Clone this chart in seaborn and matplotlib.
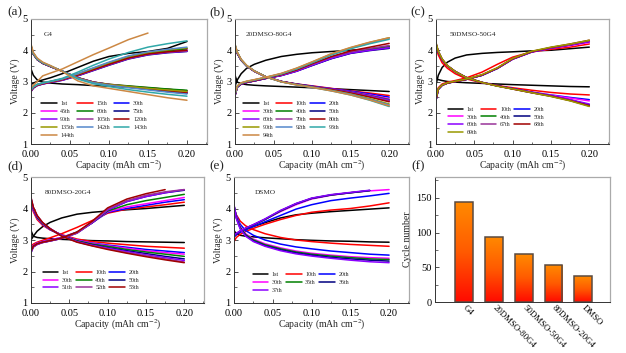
import numpy as np
import matplotlib
matplotlib.use("Agg")
import matplotlib.pyplot as plt
import seaborn as sns
from matplotlib.colors import LinearSegmentedColormap
from matplotlib.ticker import MultipleLocator

nan = np.nan

# capacity grid (mAh cm-2) shared by every curve
CAP = [0, 0.003, 0.008, 0.015, 0.025, 0.04, 0.06, 0.08, 0.1, 0.125, 0.15, 0.175, 0.2]

COLORS = ["#000000", "#ff0000", "#0000ff", "#ff00ff", "#008000", "#000080",
          "#8b00ff", "#993399", "#a00000", "#999900", "#5588cc", "#30a8a8", "#cc8844"]

# (a) G4
CYC_A = ["1st", "15th", "30th", "45th", "60th", "75th", "90th", "105th", "120th",
         "135th", "142th", "143th", "144th"]
CHG_A = [
    [2.9, 2.95, 3.0, 3.05, 3.12, 3.25, 3.45, 3.65, 3.8, 3.9, 3.96, 4.06, 4.28],
    [2.72, 2.82, 2.9, 2.95, 3.0, 3.08, 3.24, 3.42, 3.6, 3.8, 3.92, 3.99, 4.05],
    [2.7, 2.8, 2.88, 2.93, 2.98, 3.05, 3.2, 3.37, 3.54, 3.74, 3.87, 3.94, 3.98],
    [2.7, 2.8, 2.88, 2.93, 2.98, 3.06, 3.21, 3.39, 3.56, 3.76, 3.89, 3.96, 4.02],
    [2.72, 2.81, 2.89, 2.94, 2.99, 3.07, 3.22, 3.4, 3.57, 3.77, 3.9, 3.98, 4.05],
    [2.68, 2.79, 2.87, 2.92, 2.97, 3.04, 3.18, 3.35, 3.52, 3.72, 3.85, 3.92, 3.96],
    [2.68, 2.79, 2.87, 2.92, 2.97, 3.04, 3.19, 3.36, 3.53, 3.73, 3.86, 3.93, 3.97],
    [2.69, 2.8, 2.88, 2.93, 2.98, 3.05, 3.2, 3.37, 3.54, 3.74, 3.87, 3.94, 3.98],
    [2.7, 2.8, 2.88, 2.93, 2.98, 3.06, 3.21, 3.38, 3.55, 3.75, 3.88, 3.95, 4.0],
    [2.72, 2.82, 2.9, 2.95, 3.0, 3.08, 3.24, 3.42, 3.6, 3.8, 3.93, 4.01, 4.08],
    [2.72, 2.82, 2.9, 2.95, 3.0, 3.08, 3.25, 3.44, 3.62, 3.82, 3.95, 4.03, 4.1],
    [2.75, 2.84, 2.91, 2.96, 3.01, 3.1, 3.3, 3.52, 3.72, 3.93, 4.1, 4.21, 4.3],
    [2.8, 2.88, 3.0, 3.18, 3.27, 3.4, 3.63, 3.86, 4.07, 4.34, 4.55, nan, nan],
]
DIS_A = [
    [3.4, 3.2, 3.05, 2.98, 2.95, 2.92, 2.9, 2.87, 2.85, 2.82, 2.79, 2.75, 2.7],
    [4.08, 3.87, 3.7, 3.58, 3.48, 3.33, 3.12, 2.98, 2.91, 2.85, 2.8, 2.75, 2.7],
    [4.1, 3.88, 3.7, 3.58, 3.48, 3.33, 3.12, 2.98, 2.9, 2.83, 2.77, 2.71, 2.65],
    [4.1, 3.88, 3.7, 3.58, 3.48, 3.33, 3.12, 2.98, 2.9, 2.84, 2.78, 2.73, 2.68],
    [4.08, 3.87, 3.7, 3.58, 3.48, 3.33, 3.12, 2.98, 2.91, 2.86, 2.81, 2.76, 2.72],
    [4.12, 3.89, 3.71, 3.59, 3.48, 3.33, 3.11, 2.97, 2.89, 2.82, 2.75, 2.68, 2.62],
    [4.12, 3.89, 3.71, 3.59, 3.48, 3.33, 3.11, 2.97, 2.9, 2.83, 2.77, 2.71, 2.65],
    [4.12, 3.89, 3.71, 3.59, 3.48, 3.33, 3.12, 2.98, 2.9, 2.83, 2.77, 2.71, 2.66],
    [4.12, 3.89, 3.71, 3.59, 3.48, 3.33, 3.11, 2.97, 2.89, 2.82, 2.76, 2.7, 2.64],
    [4.15, 3.9, 3.72, 3.6, 3.49, 3.33, 3.11, 2.97, 2.9, 2.84, 2.78, 2.73, 2.68],
    [4.15, 3.9, 3.72, 3.6, 3.49, 3.33, 3.1, 2.96, 2.88, 2.8, 2.73, 2.66, 2.6],
    [4.15, 3.9, 3.72, 3.6, 3.5, 3.33, 3.08, 2.93, 2.84, 2.74, 2.66, 2.59, 2.53],
    [4.2, 3.93, 3.75, 3.62, 3.51, 3.32, 3.02, 2.86, 2.78, 2.68, 2.58, 2.48, 2.4],
]

# (b) 20DMSO-80G4
CYC_B = ["1st", "10th", "20th", "30th", "40th", "50th", "60th", "70th", "80th",
         "90th", "92th", "93th", "94th"]
CHG_B = [
    [2.85, 3.05, 3.25, 3.42, 3.55, 3.68, 3.8, 3.87, 3.92, 3.96, 4.0, 4.04, 4.1],
    [2.55, 2.82, 2.92, 2.97, 3.02, 3.1, 3.2, 3.35, 3.54, 3.77, 3.94, 4.04, 4.12],
    [2.55, 2.82, 2.92, 2.97, 3.02, 3.1, 3.2, 3.34, 3.52, 3.74, 3.91, 4.01, 4.08],
    [2.55, 2.82, 2.92, 2.97, 3.02, 3.1, 3.2, 3.34, 3.53, 3.75, 3.92, 4.02, 4.1],
    [2.55, 2.82, 2.92, 2.97, 3.02, 3.1, 3.2, 3.35, 3.54, 3.76, 3.93, 4.03, 4.12],
    [2.55, 2.82, 2.92, 2.97, 3.02, 3.1, 3.19, 3.33, 3.51, 3.73, 3.9, 3.99, 4.06],
    [2.55, 2.82, 2.92, 2.97, 3.02, 3.1, 3.19, 3.33, 3.52, 3.74, 3.91, 4.0, 4.08],
    [2.56, 2.83, 2.93, 2.98, 3.03, 3.11, 3.21, 3.36, 3.55, 3.78, 3.95, 4.06, 4.15],
    [2.57, 2.84, 2.93, 2.98, 3.03, 3.11, 3.22, 3.37, 3.57, 3.8, 3.98, 4.1, 4.22],
    [2.6, 2.85, 2.95, 3.0, 3.05, 3.13, 3.25, 3.42, 3.62, 3.88, 4.08, 4.25, 4.4],
    [2.6, 2.85, 2.95, 3.0, 3.05, 3.13, 3.25, 3.41, 3.61, 3.86, 4.06, 4.23, 4.38],
    [2.6, 2.85, 2.95, 3.0, 3.05, 3.13, 3.24, 3.4, 3.6, 3.85, 4.05, 4.21, 4.35],
    [2.62, 2.86, 2.96, 3.01, 3.06, 3.14, 3.26, 3.43, 3.63, 3.89, 4.09, 4.26, 4.4],
]
DIS_B = [
    [3.2, 2.98, 2.93, 2.9, 2.88, 2.86, 2.84, 2.82, 2.8, 2.77, 2.74, 2.71, 2.68],
    [4.12, 3.9, 3.68, 3.5, 3.33, 3.15, 3.0, 2.92, 2.86, 2.78, 2.7, 2.63, 2.55],
    [4.12, 3.9, 3.68, 3.5, 3.33, 3.15, 3.0, 2.92, 2.85, 2.77, 2.69, 2.6, 2.5],
    [4.12, 3.9, 3.68, 3.5, 3.33, 3.15, 3.0, 2.91, 2.84, 2.76, 2.67, 2.57, 2.45],
    [4.14, 3.9, 3.68, 3.5, 3.33, 3.15, 3.0, 2.91, 2.84, 2.75, 2.66, 2.55, 2.42],
    [4.14, 3.9, 3.68, 3.5, 3.33, 3.15, 3.0, 2.91, 2.84, 2.75, 2.65, 2.53, 2.38],
    [4.14, 3.9, 3.68, 3.5, 3.33, 3.15, 3.0, 2.91, 2.84, 2.75, 2.65, 2.54, 2.4],
    [4.15, 3.91, 3.69, 3.5, 3.33, 3.15, 3.0, 2.91, 2.83, 2.74, 2.64, 2.52, 2.37],
    [4.15, 3.91, 3.69, 3.5, 3.33, 3.15, 3.0, 2.91, 2.83, 2.74, 2.63, 2.5, 2.35],
    [4.18, 3.93, 3.7, 3.51, 3.34, 3.15, 2.99, 2.9, 2.82, 2.72, 2.6, 2.45, 2.28],
    [4.18, 3.93, 3.7, 3.51, 3.34, 3.15, 2.99, 2.9, 2.82, 2.71, 2.59, 2.43, 2.25],
    [4.18, 3.93, 3.7, 3.51, 3.34, 3.15, 2.99, 2.89, 2.81, 2.7, 2.57, 2.4, 2.2],
    [4.2, 3.94, 3.71, 3.52, 3.34, 3.15, 2.99, 2.89, 2.81, 2.7, 2.57, 2.41, 2.22],
]

# (c) 50DMSO-50G4
CYC_C = ["1st", "10th", "20th", "30th", "40th", "50th", "60th", "67th", "68th", "69th"]
CHG_C = [
    [2.9, 3.2, 3.45, 3.62, 3.75, 3.85, 3.9, 3.93, 3.95, 3.98, 4.0, 4.05, 4.1],
    [2.5, 2.8, 2.92, 2.98, 3.03, 3.12, 3.3, 3.55, 3.78, 3.95, 4.03, 4.1, 4.2],
    [2.4, 2.75, 2.88, 2.95, 3.0, 3.07, 3.2, 3.42, 3.72, 3.95, 4.08, 4.18, 4.3],
    [2.4, 2.75, 2.88, 2.95, 3.0, 3.07, 3.2, 3.42, 3.71, 3.94, 4.06, 4.15, 4.25],
    [2.4, 2.75, 2.88, 2.95, 3.0, 3.07, 3.2, 3.42, 3.72, 3.95, 4.08, 4.18, 4.3],
    [2.4, 2.75, 2.88, 2.95, 3.0, 3.07, 3.2, 3.42, 3.72, 3.95, 4.07, 4.17, 4.28],
    [2.4, 2.75, 2.88, 2.95, 3.0, 3.07, 3.2, 3.42, 3.72, 3.95, 4.07, 4.17, 4.28],
    [2.42, 2.76, 2.89, 2.95, 3.0, 3.07, 3.21, 3.43, 3.73, 3.96, 4.08, 4.18, 4.3],
    [2.42, 2.76, 2.89, 2.95, 3.0, 3.07, 3.21, 3.43, 3.73, 3.96, 4.09, 4.2, 4.32],
    [2.45, 2.77, 2.89, 2.96, 3.01, 3.08, 3.22, 3.44, 3.74, 3.97, 4.1, 4.2, 4.32],
]
DIS_C = [
    [3.1, 3.06, 3.03, 3.0, 2.98, 2.96, 2.94, 2.92, 2.9, 2.88, 2.86, 2.84, 2.83],
    [4.1, 3.85, 3.6, 3.42, 3.25, 3.08, 2.96, 2.87, 2.8, 2.72, 2.65, 2.6, 2.57],
    [4.2, 3.95, 3.7, 3.5, 3.32, 3.12, 2.97, 2.86, 2.77, 2.66, 2.57, 2.49, 2.42],
    [4.2, 3.95, 3.7, 3.5, 3.32, 3.12, 2.97, 2.86, 2.77, 2.66, 2.56, 2.47, 2.38],
    [4.2, 3.95, 3.7, 3.5, 3.32, 3.12, 2.97, 2.86, 2.77, 2.65, 2.54, 2.41, 2.25],
    [4.2, 3.95, 3.7, 3.5, 3.32, 3.12, 2.97, 2.86, 2.77, 2.65, 2.54, 2.41, 2.25],
    [4.2, 3.95, 3.7, 3.5, 3.32, 3.12, 2.97, 2.86, 2.77, 2.65, 2.54, 2.42, 2.28],
    [4.22, 3.96, 3.71, 3.5, 3.32, 3.12, 2.97, 2.86, 2.76, 2.64, 2.53, 2.39, 2.22],
    [4.22, 3.96, 3.71, 3.5, 3.32, 3.12, 2.97, 2.86, 2.76, 2.64, 2.53, 2.39, 2.22],
    [4.25, 3.97, 3.72, 3.51, 3.32, 3.12, 2.97, 2.85, 2.76, 2.64, 2.52, 2.38, 2.2],
]

# (d) 80DMSO-20G4
CYC_D = ["1st", "10th", "20th", "30th", "40th", "50th", "51th", "52th", "53th"]
CHG_D = [
    [3.0, 3.12, 3.28, 3.42, 3.56, 3.7, 3.82, 3.88, 3.92, 3.96, 4.0, 4.05, 4.1],
    [2.8, 2.87, 2.93, 2.99, 3.07, 3.2, 3.4, 3.62, 3.85, 3.98, 4.05, 4.12, 4.2],
    [2.7, 2.82, 2.9, 2.95, 3.0, 3.08, 3.25, 3.55, 3.88, 4.0, 4.1, 4.2, 4.28],
    [2.7, 2.82, 2.9, 2.95, 3.0, 3.08, 3.25, 3.55, 3.9, 4.05, 4.15, 4.25, 4.35],
    [2.65, 2.8, 2.88, 2.93, 2.98, 3.06, 3.25, 3.55, 3.92, 4.12, 4.25, 4.35, 4.45],
    [2.6, 2.78, 2.86, 2.92, 2.97, 3.05, 3.22, 3.55, 3.95, 4.22, 4.38, 4.5, 4.58],
    [2.6, 2.78, 2.86, 2.92, 2.97, 3.05, 3.22, 3.55, 3.95, 4.22, 4.38, 4.5, 4.6],
    [2.62, 2.78, 2.86, 2.92, 2.97, 3.05, 3.22, 3.57, 3.98, 4.25, 4.42, 4.53, 4.6],
    [2.65, 2.8, 2.88, 2.93, 2.98, 3.06, 3.25, 3.6, 4.02, 4.3, 4.47, 4.6, nan],
]
DIS_D = [
    [3.3, 3.12, 3.08, 3.06, 3.04, 3.02, 3.0, 2.98, 2.97, 2.95, 2.94, 2.93, 2.92],
    [4.2, 3.9, 3.65, 3.47, 3.32, 3.17, 3.03, 2.95, 2.9, 2.85, 2.8, 2.77, 2.74],
    [4.25, 3.95, 3.7, 3.5, 3.33, 3.15, 3.0, 2.9, 2.84, 2.77, 2.7, 2.65, 2.6],
    [4.25, 3.95, 3.7, 3.5, 3.33, 3.15, 3.0, 2.89, 2.82, 2.74, 2.66, 2.6, 2.55],
    [4.3, 4.0, 3.72, 3.52, 3.34, 3.14, 2.98, 2.87, 2.8, 2.7, 2.62, 2.55, 2.48],
    [4.3, 4.0, 3.74, 3.53, 3.35, 3.14, 2.96, 2.85, 2.76, 2.66, 2.57, 2.48, 2.4],
    [4.32, 4.02, 3.76, 3.55, 3.36, 3.14, 2.95, 2.83, 2.74, 2.63, 2.53, 2.44, 2.35],
    [4.35, 4.03, 3.77, 3.55, 3.36, 3.13, 2.94, 2.82, 2.72, 2.6, 2.5, 2.4, 2.3],
    [4.35, 4.05, 3.78, 3.56, 3.36, 3.12, 2.93, 2.81, 2.7, 2.58, 2.47, 2.37, 2.28],
]

# (e) DSMO
CYC_E = ["1st", "10th", "20th", "30th", "35th", "36th", "37th"]
CHG_E = [
    [3.1, 3.17, 3.25, 3.33, 3.43, 3.55, 3.7, 3.8, 3.85, 3.9, 3.94, 3.98, 4.02],
    [2.95, 3.08, 3.18, 3.27, 3.37, 3.5, 3.65, 3.78, 3.88, 3.95, 4.0, 4.08, 4.18],
    [3.1, 3.17, 3.25, 3.33, 3.43, 3.58, 3.78, 3.98, 4.12, 4.25, 4.33, 4.4, 4.48],
    [3.15, 3.2, 3.28, 3.37, 3.48, 3.65, 3.9, 4.12, 4.3, 4.42, 4.5, 4.56, 4.6],
    [3.15, 3.2, 3.28, 3.37, 3.48, 3.65, 3.92, 4.15, 4.32, 4.43, 4.5, 4.57, nan],
    [3.15, 3.2, 3.28, 3.37, 3.48, 3.66, 3.93, 4.15, 4.32, 4.43, 4.5, 4.57, nan],
    [3.15, 3.21, 3.29, 3.38, 3.49, 3.67, 3.94, 4.16, 4.33, 4.44, 4.51, 4.58, nan],
]
DIS_E = [
    [3.3, 3.2, 3.15, 3.12, 3.1, 3.07, 3.04, 3.01, 2.99, 2.97, 2.96, 2.94, 2.93],
    [4.0, 3.8, 3.6, 3.45, 3.33, 3.2, 3.08, 3.0, 2.95, 2.9, 2.86, 2.83, 2.8],
    [4.05, 3.78, 3.5, 3.3, 3.15, 3.0, 2.87, 2.78, 2.72, 2.65, 2.6, 2.55, 2.52],
    [4.1, 3.75, 3.42, 3.2, 3.03, 2.88, 2.75, 2.65, 2.58, 2.52, 2.47, 2.44, 2.42],
    [4.1, 3.72, 3.4, 3.17, 3.0, 2.85, 2.72, 2.62, 2.55, 2.49, 2.44, 2.4, 2.38],
    [4.1, 3.7, 3.37, 3.14, 2.97, 2.82, 2.69, 2.59, 2.52, 2.45, 2.4, 2.36, 2.33],
    [4.12, 3.68, 3.35, 3.12, 2.95, 2.8, 2.66, 2.56, 2.49, 2.42, 2.36, 2.31, 2.28],
]

# (f) cycle life
BAR_LABELS = ["G4", "20DMSO-80G4", "50DMSO-50G4", "80DMSO-20G4", "DMSO"]
BAR_CYCLES = [144, 94, 69, 53, 37]

sns.set_style("ticks")
plt.rcParams["font.family"] = ["Liberation Serif", "DejaVu Serif"]
plt.rcParams["mathtext.fontset"] = "stix"

fig = plt.figure(figsize=(6.26, 3.53), dpi=100)

W, H = 626, 353


def px_axes(x0, y_top, x1, y_bot):
    return fig.add_axes([x0 / W, 1 - y_bot / H, (x1 - x0) / W, (y_bot - y_top) / H])


def style_axes(ax):
    for side in ["left", "bottom"]:
        ax.spines[side].set_color("#333333")
        ax.spines[side].set_linewidth(0.7)
    for side in ["top", "right"]:
        ax.spines[side].set_color("#aaaaaa")
        ax.spines[side].set_linewidth(0.9)
    ax.tick_params(which="both", direction="in", top=False, right=False,
                   labelsize=7.5, colors="#333333", labelcolor="black")
    ax.tick_params(axis="x", which="both", pad=4)
    ax.tick_params(axis="y", which="both", pad=2.5)
    ax.tick_params(which="major", length=3, width=0.6)
    ax.tick_params(which="minor", length=1.8, width=0.5)


def voltage_panel(ax, cycles, charge, discharge, title, leg_pos):
    handles = []
    for i, cyc in enumerate(cycles):
        c = COLORS[i]
        sns.lineplot(x=CAP, y=charge[i], color=c, lw=1.1, ax=ax)
        handles.append(ax.lines[-1])
        sns.lineplot(x=CAP, y=discharge[i], color=c, lw=1.1, ax=ax)
    ax.set_xlim(0, 0.2257)
    ax.set_ylim(1, 5)
    ax.xaxis.set_major_locator(MultipleLocator(0.05))
    ax.xaxis.set_minor_locator(MultipleLocator(0.025))
    ax.yaxis.set_major_locator(MultipleLocator(1))
    ax.yaxis.set_minor_locator(MultipleLocator(0.5))
    ax.xaxis.set_major_formatter(matplotlib.ticker.FormatStrFormatter("%.2f"))
    ax.set_xlabel("Capacity (mAh cm$^{-2}$)", fontsize=7, labelpad=0)
    ax.set_ylabel("Voltage (V)", fontsize=7, labelpad=2)
    ax.text(leg_pos[0] + 0.02, 0.88, title, transform=ax.transAxes, fontsize=5.2,
            ha="left", va="center")
    # row-major ordering for a 3-column legend
    order = list(range(0, len(cycles), 3)) + list(range(1, len(cycles), 3)) + \
        list(range(2, len(cycles), 3))
    ax.legend([handles[k] for k in order], [cycles[k] for k in order], ncol=3,
              loc="lower left", bbox_to_anchor=leg_pos, frameon=False,
              fontsize=4.3, handlelength=2.6, handletextpad=0.6,
              columnspacing=0.6, labelspacing=0.45, borderpad=0.2,
              borderaxespad=0)
    style_axes(ax)


ax_a = px_axes(31, 19, 207, 144)
voltage_panel(ax_a, CYC_A, CHG_A, DIS_A, "G4", (0.05, 0.04))
ax_b = px_axes(235, 19, 409, 144)
voltage_panel(ax_b, CYC_B, CHG_B, DIS_B, "20DMSO-80G4", (0.04, 0.04))
ax_c = px_axes(436, 19, 609, 144)
voltage_panel(ax_c, CYC_C, CHG_C, DIS_C, "50DMSO-50G4", (0.06, 0.06))
ax_d = px_axes(31, 177, 204, 303)
voltage_panel(ax_d, CYC_D, CHG_D, DIS_D, "80DMSO-20G4", (0.06, 0.09))
ax_e = px_axes(234, 177, 409, 303)
voltage_panel(ax_e, CYC_E, CHG_E, DIS_E, "DSMO", (0.10, 0.07))

# (f) bars with orange-to-red gradient
ax_f = px_axes(435, 177, 610, 302)
sns.barplot(x=BAR_LABELS, y=BAR_CYCLES, ax=ax_f, width=0.6, color="white",
            edgecolor="#5a4a40", linewidth=1.1)
grad_cmap = LinearSegmentedColormap.from_list("ored", ["#ff0a00", "#ff5a00", "#ff8a00"])
grad = np.linspace(0, 1, 256).reshape(-1, 1)
for patch in ax_f.patches:
    bx, by = patch.get_x(), patch.get_y()
    bw, bh = patch.get_width(), patch.get_height()
    im = ax_f.imshow(grad, extent=[bx, bx + bw, by, by + bh], origin="lower",
                     aspect="auto", cmap=grad_cmap, zorder=1)
    im.set_clip_path(patch)
    patch.set_facecolor("none")
    patch.set_zorder(2)
ax_f.set_xlim(-0.98, 4.9)
ax_f.set_ylim(0, 180)
ax_f.yaxis.set_major_locator(MultipleLocator(50))
ax_f.yaxis.set_minor_locator(MultipleLocator(25))
ax_f.set_ylabel("Cycle number", fontsize=7, labelpad=3)
ax_f.set_xlabel("")
style_axes(ax_f)
ax_f.tick_params(axis="x", which="both", length=0, pad=3)
for lab in ax_f.get_xticklabels():
    lab.set_rotation(-45)
    lab.set_ha("left")
    lab.set_va("center")
    lab.set_rotation_mode("anchor")
    lab.set_fontsize(6.3)

for lbl, x, y in [("(a)", 7, 12), ("(b)", 209, 12), ("(c)", 410, 12),
                  ("(d)", 7, 166), ("(e)", 209, 166), ("(f)", 411, 166)]:
    fig.text(x / W, 1 - y / H, lbl, fontsize=9.5, ha="left", va="center")

fig.savefig("out.png", dpi=100)
